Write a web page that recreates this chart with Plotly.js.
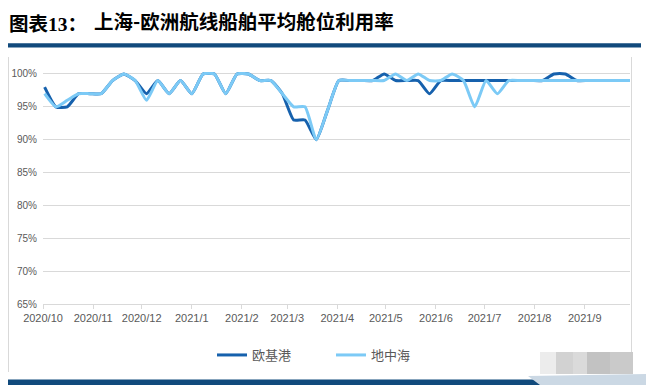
<!DOCTYPE html>
<html>
<head>
<meta charset="utf-8">
<script src="https://cdn.plot.ly/plotly-3.0.1.min.js"></script>
<style>
  html, body { margin: 0; padding: 0; background: #fff; }
  #chart { width: 646px; height: 385px; }
</style>
</head>
<body>
<div id="chart"></div>
<script>
// ---- data ----
const dates = [
  '2020-10-02','2020-10-09','2020-10-16','2020-10-23','2020-10-30',
  '2020-11-06','2020-11-13','2020-11-20','2020-11-27',
  '2020-12-04','2020-12-11','2020-12-18','2020-12-25',
  '2021-01-01','2021-01-08','2021-01-15','2021-01-22','2021-01-29',
  '2021-02-05','2021-02-12','2021-02-19','2021-02-26',
  '2021-03-05','2021-03-12','2021-03-19','2021-03-26',
  '2021-04-02','2021-04-09','2021-04-16','2021-04-23','2021-04-30',
  '2021-05-07','2021-05-14','2021-05-21','2021-05-28',
  '2021-06-04','2021-06-11','2021-06-18','2021-06-25',
  '2021-07-02','2021-07-09','2021-07-16','2021-07-23','2021-07-30',
  '2021-08-06','2021-08-13','2021-08-20','2021-08-27',
  '2021-09-03','2021-09-10','2021-09-17','2021-09-24','2021-10-01'
];
const europeBase = [
  98, 95, 95, 97, 97,
  97, 99, 100, 99,
  97, 99, 97, 99,
  97, 100, 100, 97, 100,
  100, 99, 99, 97,
  93, 93, 90, 94.5,
  99, 99, 99, 99, 100,
  99, 99, 99, 97,
  99, 99, 99, 99,
  99, 99, 99, 99, 99,
  99, 100, 100, 99,
  99, 99, 99, 99, 99
];
const mediterranean = [
  97, 95, 96, 97, 97,
  97, 99, 100, 99,
  96, 99, 97, 99,
  97, 100, 100, 97, 100,
  100, 99, 99, 97,
  95, 95, 90, 94.5,
  99, 99, 99, 99, 99,
  100, 99, 100, 99,
  99, 100, 99, 95,
  99, 97, 99, 99, 99,
  99, 99, 99, 99,
  99, 99, 99, 99, 99
];
const seriesNames = ['欧基港', '地中海'];
const yTickValues = [65, 70, 75, 80, 85, 90, 95, 100];
const titleMain = '上海-欧洲航线船舶平均舱位利用率';

// ---- geometry helpers (pixel -> paper) ----
const W = 646, H = 385;
const M = { l: 43, r: 16, t: 72, b: 81 };
const PW = W - M.l - M.r, PH = H - M.t - M.b;
const px = x => (x - M.l) / PW;
const py = y => (H - M.b - y) / PH;

const darkBlue = '#1661ad';
const lightBlue = '#7ccaf6';
const navy = '#114a7c';
const grid = '#d9d9d9';

const traces = [
  { x: dates, y: europeBase, name: seriesNames[0], type: 'scatter', mode: 'lines',
    line: { color: darkBlue, width: 3, shape: 'spline', smoothing: 0.5 } },
  { x: dates, y: mediterranean, name: seriesNames[1], type: 'scatter', mode: 'lines',
    line: { color: lightBlue, width: 3, shape: 'spline', smoothing: 0.5 } }
];

const shapes = [
  // title rule
  { type: 'rect', xref: 'paper', yref: 'paper', x0: px(8), x1: px(641), y0: py(47.5), y1: py(43.3),
    fillcolor: navy, line: { width: 0 }, layer: 'above' },
  // frame
  { type: 'line', xref: 'paper', yref: 'paper', x0: px(8.5), x1: px(8.5), y0: py(57), y1: py(372),
    line: { color: grid, width: 1 }, layer: 'below' },
  { type: 'line', xref: 'paper', yref: 'paper', x0: px(631.5), x1: px(631.5), y0: py(57), y1: py(372),
    line: { color: grid, width: 1 }, layer: 'above' },
  // bottom rule
  { type: 'rect', xref: 'paper', yref: 'paper', x0: px(8), x1: px(646), y0: py(385), y1: py(379.5),
    fillcolor: navy, line: { width: 0 }, layer: 'above' },
  // watermark blur
  { type: 'path', xref: 'paper', yref: 'paper',
    path: `M ${px(528)} ${py(376)} L ${px(646)} ${py(374)} L ${px(646)} ${py(385)} L ${px(540)} ${py(385)} Z`,
    fillcolor: '#cbd8e4', line: { width: 0 }, layer: 'above' },
  { type: 'rect', xref: 'paper', yref: 'paper', x0: px(540), x1: px(556), y0: py(374), y1: py(352),
    fillcolor: '#ececec', line: { width: 0 }, layer: 'above' },
  { type: 'rect', xref: 'paper', yref: 'paper', x0: px(556), x1: px(573), y0: py(374), y1: py(352),
    fillcolor: '#d2d2d2', line: { width: 0 }, layer: 'above' },
  { type: 'rect', xref: 'paper', yref: 'paper', x0: px(573), x1: px(587), y0: py(374), y1: py(352),
    fillcolor: '#dadada', line: { width: 0 }, layer: 'above' },
  { type: 'rect', xref: 'paper', yref: 'paper', x0: px(587), x1: px(610), y0: py(374), y1: py(352),
    fillcolor: '#c2c2c2', line: { width: 0 }, layer: 'above' },
  { type: 'rect', xref: 'paper', yref: 'paper', x0: px(610), x1: px(633), y0: py(374), y1: py(352),
    fillcolor: '#cacaca', line: { width: 0 }, layer: 'above' }
];

const layout = {
  width: W, height: H,
  margin: M,
  paper_bgcolor: '#fff', plot_bgcolor: '#fff',
  font: { family: '"Noto Sans CJK SC", "Liberation Sans", sans-serif', color: '#595959' },
  title: {
    text: titleMain,
    xref: 'container', yref: 'container',
    x: 94 / W, xanchor: 'left',
    y: 1 - 22 / H, yanchor: 'middle',
    font: { family: '"Noto Sans CJK SC", sans-serif', size: 19.5, weight: 700, color: '#000' }
  },
  annotations: [
    { text: '图表<span style="font-family:\'Liberation Serif\'">13</span>：',
      xref: 'paper', yref: 'paper', x: px(7), y: py(22), xanchor: 'left', yanchor: 'middle',
      showarrow: false,
      font: { family: '"Noto Sans CJK SC", sans-serif', size: 19.5, weight: 700, color: '#000' } }
  ],
  xaxis: {
    type: 'date',
    range: ['2020-10-01', '2021-09-29'],
    tick0: '2020-10-01', dtick: 'M1', tickformat: '%Y/%-m',
    ticks: 'outside', ticklen: 4, tickcolor: grid,
    showline: true, linecolor: grid, linewidth: 1,
    showgrid: false, zeroline: false,
    tickfont: { family: '"Liberation Sans", sans-serif', size: 11, color: '#595959' }
  },
  yaxis: {
    range: [65, 100.3],
    tickmode: 'array', tickvals: yTickValues, ticktext: yTickValues.map(v => v + '%'),
    showgrid: true, gridcolor: grid, gridwidth: 1,
    zeroline: false, showline: false, ticks: '',
    ticklabelstandoff: 5,
    tickfont: { family: '"Liberation Sans", sans-serif', size: 10, color: '#595959' }
  },
  showlegend: true,
  legend: {
    orientation: 'h',
    x: px(212), xanchor: 'left',
    y: py(355), yanchor: 'middle',
    entrywidth: 74, entrywidthmode: 'pixels',
    font: { family: '"Noto Sans CJK SC", sans-serif', size: 13, color: '#595959' },
    bgcolor: 'rgba(0,0,0,0)'
  },
  shapes: shapes
};

Plotly.newPlot('chart', traces, layout, { displayModeBar: false, staticPlot: true });
</script>
</body>
</html>
